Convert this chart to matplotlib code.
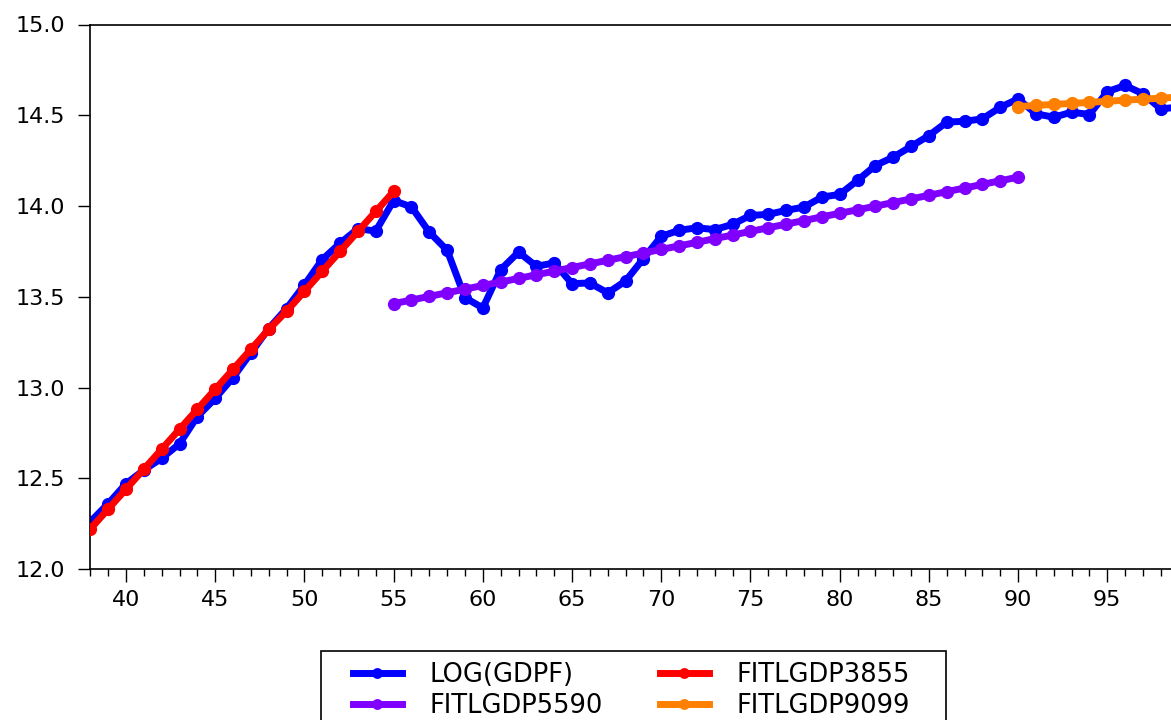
import matplotlib
matplotlib.use("Agg")
import matplotlib.pyplot as plt
from matplotlib.patches import Rectangle
from matplotlib.ticker import MultipleLocator

years = list(range(38, 100))
log_gdpf = [12.26, 12.36, 12.47, 12.545, 12.61, 12.69, 12.84, 12.94, 13.055, 13.19,
            13.325, 13.435, 13.565, 13.705, 13.795, 13.875, 13.862, 14.03, 13.995, 13.856,
            13.756, 13.495, 13.438, 13.649, 13.746, 13.668, 13.686, 13.572, 13.576, 13.521,
            13.587, 13.71, 13.833, 13.866, 13.88, 13.87, 13.899, 13.948, 13.954, 13.976,
            13.994, 14.049, 14.064, 14.141, 14.223, 14.269, 14.328, 14.388, 14.462, 14.467,
            14.48, 14.544, 14.59, 14.508, 14.489, 14.517, 14.504, 14.63, 14.664, 14.618,
            14.535, 14.545]

years_3855 = list(range(38, 56))
fit_3855 = [12.22, 12.33, 12.44, 12.55, 12.66, 12.77, 12.88, 12.99, 13.10, 13.21,
            13.32, 13.42, 13.53, 13.64, 13.75, 13.86, 13.97, 14.08]

years_5590 = list(range(55, 91))
fit_5590 = [13.462, 13.482, 13.502, 13.522, 13.542, 13.562, 13.581, 13.601, 13.621, 13.641,
            13.661, 13.681, 13.701, 13.721, 13.741, 13.761, 13.780, 13.800, 13.820, 13.840,
            13.860, 13.880, 13.900, 13.920, 13.940, 13.960, 13.979, 13.999, 14.019, 14.039,
            14.059, 14.079, 14.099, 14.119, 14.139, 14.159]

years_9099 = list(range(90, 100))
fit_9099 = [14.548, 14.554, 14.560, 14.565, 14.571, 14.577, 14.583, 14.589, 14.594, 14.600]

series_labels = ["LOG(GDPF)", "FITLGDP3855", "FITLGDP5590", "FITLGDP9099"]
colors = ["#0000FF", "#FF0000", "#8000FF", "#FF8000"]

plt.rcParams['font.family'] = ['DejaVu Sans']

W, H = 1171, 720
fig = plt.figure(figsize=(W / 100, H / 100), dpi=100)
ax = fig.add_axes([90.3 / W, 1 - 569 / H, 1 - 90.3 / W, (569 - 24.5) / H])

lw, ms = 5, 8.5
h1, = ax.plot(years, log_gdpf, color=colors[0], lw=lw, marker='o', ms=ms, zorder=2)
h2, = ax.plot(years_3855, fit_3855, color=colors[1], lw=lw, marker='o', ms=ms, zorder=3)
h3, = ax.plot(years_5590, fit_5590, color=colors[2], lw=lw, marker='o', ms=ms, zorder=3)
h4, = ax.plot(years_9099, fit_9099, color=colors[3], lw=lw, marker='o', ms=ms, zorder=3)

ax.set_xlim(38, 98.57)
ax.set_ylim(12.0, 15.0)
ax.xaxis.set_major_locator(MultipleLocator(5))
ax.xaxis.set_minor_locator(MultipleLocator(1))
ax.yaxis.set_major_locator(MultipleLocator(0.5))
ax.yaxis.set_major_formatter(matplotlib.ticker.FormatStrFormatter('%.1f'))
ax.tick_params(axis='x', which='major', direction='out', length=9, width=1, labelsize=16, pad=6)
ax.tick_params(axis='x', which='minor', direction='out', length=5, width=1)
ax.tick_params(axis='y', which='major', direction='out', length=9, width=1, labelsize=16, pad=9)
ax.spines['right'].set_visible(False)
for s in ['left', 'bottom', 'top']:
    ax.spines[s].set_linewidth(1.2)

# row-wise order: LOG(GDPF), FITLGDP3855 / FITLGDP5590, FITLGDP9099
handles = [h1, h3, h2, h4]
labels = [series_labels[0], series_labels[2], series_labels[1], series_labels[3]]
leg = fig.legend(handles, labels, ncol=2, loc='upper left',
                 bbox_to_anchor=(340 / W, 1 - 649 / H), frameon=False,
                 fontsize=18.5, labelspacing=0.2, handlelength=1.9,
                 handletextpad=1.1, columnspacing=2.2, borderpad=0.0,
                 numpoints=1, markerscale=0.8)
fig.patches.append(Rectangle((321 / W, 1 - 760 / H), (946 - 321) / W, (760 - 651) / H,
                             transform=fig.transFigure, fill=False, edgecolor='black',
                             linewidth=1.2))

fig.savefig("out.png", dpi=100)
